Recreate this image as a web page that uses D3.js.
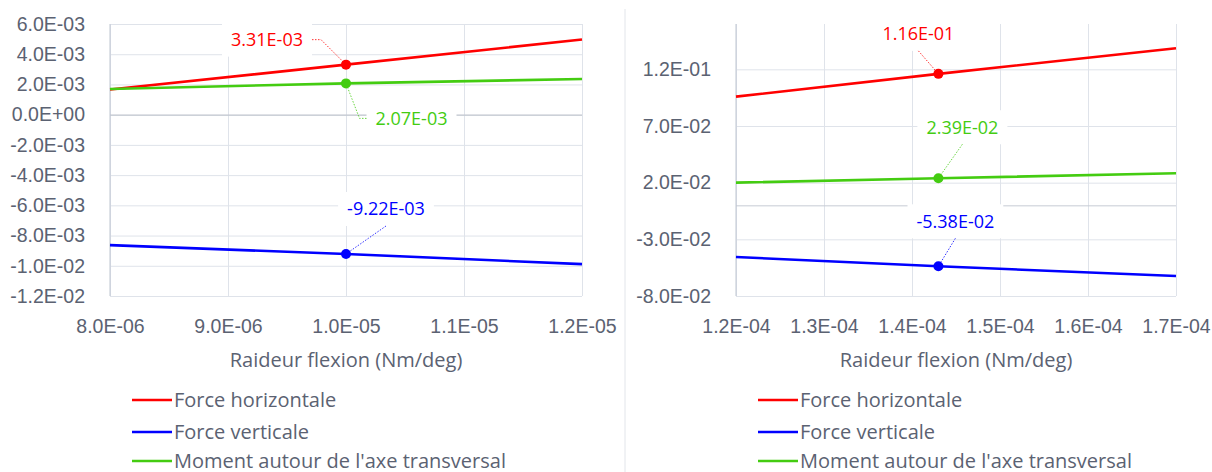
<!DOCTYPE html>
<html>
<head>
<meta charset="utf-8">
<script src="https://cdn.jsdelivr.net/npm/d3@7"></script>
<style>
  body { margin: 0; background: #fff; }
  svg { display: block; font-family: "Open Sans", sans-serif; }
</style>
</head>
<body>
<svg id="chart" width="1212" height="472"></svg>
<script>
// series shared by both panels
var seriesNames = ["Force horizontale", "Force verticale", "Moment autour de l'axe transversal"];
var seriesColors = ["#ff0000", "#0000ff", "#44cc11"];

// left panel
var leftX = [8.0e-6, 1.0e-5, 1.2e-5];
var leftHoriz = [1.66e-3, 3.31e-3, 4.97e-3];
var leftVert = [-8.63e-3, -9.22e-3, -9.89e-3];
var leftMoment = [1.70e-3, 2.07e-3, 2.36e-3];
var leftXTicks = [8.0e-6, 9.0e-6, 1.0e-5, 1.1e-5, 1.2e-5];
var leftYTicks = [-1.2e-2, -1.0e-2, -8.0e-3, -6.0e-3, -4.0e-3, -2.0e-3, 0, 2.0e-3, 4.0e-3, 6.0e-3];

// right panel
var rightX = [1.2e-4, 1.43e-4, 1.7e-4];
var rightHoriz = [9.59e-2, 1.16e-1, 1.386e-1];
var rightVert = [-4.56e-2, -5.38e-2, -6.23e-2];
var rightMoment = [2.00e-2, 2.39e-2, 2.83e-2];
var rightXTicks = [1.2e-4, 1.3e-4, 1.4e-4, 1.5e-4, 1.6e-4, 1.7e-4];
var rightYTicks = [-8.0e-2, -3.0e-2, 2.0e-2, 7.0e-2, 1.2e-1];

var axisTitle = "Raideur flexion (Nm/deg)";
var textColor = "#5b6272";

function sci(digits) {
    return function(d) {
        var s = (+d).toExponential(digits).split("e");
        var e = +s[1];
        return s[0] + "E" + (e < 0 ? "-" : "+") + String(Math.abs(e)).padStart(2, "0");
    };
}

var svg = d3.select("#chart");

// divider between the two charts
svg.append("line")
    .attr("x1", 625).attr("x2", 625)
    .attr("y1", 9).attr("y2", 472)
    .attr("stroke", "#e2e5ea").attr("stroke-width", 1);

var panels = [
    {left: 110, right: 582, xDomain: [8.0e-6, 1.2e-5], yDomain: [-1.2e-2, 6.0e-3],
     xTicks: leftXTicks, yTicks: leftYTicks, xs: leftX,
     series: [leftHoriz, leftVert, leftMoment],
     labelOffsets: [[-79, -25], [40, -45], [65.5, 35]]},
    {left: 736, right: 1176, xDomain: [1.2e-4, 1.7e-4], yDomain: [-8.0e-2, 1.6e-1],
     xTicks: rightXTicks, yTicks: rightYTicks, xs: rightX,
     series: [rightHoriz, rightVert, rightMoment],
     labelOffsets: [[-20, -40], [17, -45], [24, -51]]}
];

var plotTop = 24, plotBottom = 296, marked = 1;

panels.forEach(function(p) {
    var x = d3.scaleLinear().domain(p.xDomain).range([p.left, p.right]);
    var y = d3.scaleLinear().domain(p.yDomain).range([plotBottom, plotTop]);
    var w = p.right - p.left, h = plotBottom - plotTop;

    // vertical gridlines
    svg.append("g")
        .attr("transform", "translate(0," + plotBottom + ")")
        .call(d3.axisBottom(x).tickValues(p.xTicks).tickSize(-h).tickFormat(""))
        .call(function(g) { g.select(".domain").remove(); })
        .selectAll("line").attr("stroke", "#dfe3ea");

    // horizontal gridlines
    svg.append("g")
        .attr("transform", "translate(" + p.left + ",0)")
        .call(d3.axisLeft(y).tickValues(p.yTicks.concat([0])).tickSize(-w).tickFormat(""))
        .call(function(g) { g.select(".domain").remove(); })
        .selectAll("line")
        .attr("stroke", function(d) { return d === 0 ? "#c6cbd4" : "#dfe3ea"; });

    // value axis line
    svg.append("line")
        .attr("x1", p.left).attr("x2", p.left)
        .attr("y1", plotTop).attr("y2", plotBottom)
        .attr("stroke", "#bfc6d1");

    // tick labels
    svg.append("g")
        .attr("transform", "translate(" + (p.left - 22) + ",0)")
        .call(d3.axisLeft(y).tickValues(p.yTicks).tickSize(0).tickFormat(sci(1)))
        .call(function(g) { g.select(".domain").remove(); })
        .selectAll("text")
        .attr("fill", textColor).style("font-size", "19.5px");

    svg.append("g")
        .attr("transform", "translate(0," + 316 + ")")
        .call(d3.axisBottom(x).tickValues(p.xTicks).tickSize(0).tickFormat(sci(1)))
        .call(function(g) { g.select(".domain").remove(); })
        .selectAll("text")
        .attr("fill", textColor).style("font-size", "19.5px");

    svg.append("text")
        .attr("x", (p.left + p.right) / 2)
        .attr("y", 360)
        .attr("dy", "0.35em")
        .attr("text-anchor", "middle")
        .attr("fill", textColor)
        .style("font-size", "20px")
        .text(axisTitle);

    // series lines
    var line = d3.line()
        .x(function(d, i) { return x(p.xs[i]); })
        .y(function(d) { return y(d); });

    p.series.forEach(function(vals, k) {
        svg.append("path")
            .attr("d", line(vals))
            .attr("fill", "none")
            .attr("stroke", seriesColors[k])
            .attr("stroke-width", 2.6);
    });

    // marked point with data label
    p.series.forEach(function(vals, k) {
        var px = x(p.xs[marked]), py = y(vals[marked]);
        var cx = px + p.labelOffsets[k][0], cy = py + p.labelOffsets[k][1];
        var g = svg.append("g");
        var t = g.append("text")
            .attr("x", cx).attr("y", cy)
            .attr("dy", "0.35em")
            .attr("text-anchor", "middle")
            .attr("fill", seriesColors[k])
            .style("font-size", "18px")
            .text(sci(2)(vals[marked]));
        var tw = t.node().getComputedTextLength();
        var bx0 = cx - tw / 2 - 9, bx1 = cx + tw / 2 + 9, by0 = cy - 17, by1 = cy + 17;
        g.insert("rect", "text")
            .attr("x", bx0).attr("y", by0)
            .attr("width", bx1 - bx0).attr("height", by1 - by0)
            .attr("fill", "#fff");

        // leader line
        var pts;
        if (px > bx1) pts = [[bx1, cy], [bx1 + 9, cy], [px, py]];
        else if (px < bx0) pts = [[bx0, cy], [bx0 - 7, cy], [px, py]];
        else pts = [[cx, py < cy ? by0 : by1], [px, py]];
        svg.append("path")
            .attr("d", d3.line()(pts))
            .attr("fill", "none")
            .attr("stroke", seriesColors[k])
            .attr("stroke-width", 1)
            .attr("stroke-dasharray", "1.5,1.5")
            .attr("opacity", 0.8);

        svg.append("circle")
            .attr("cx", px).attr("cy", py).attr("r", 5)
            .attr("fill", seriesColors[k]);
    });

    // legend
    var legend = svg.selectAll(null)
        .data(seriesNames)
        .enter().append("g")
        .attr("transform", function(d, i) { return "translate(" + (p.left + 22) + "," + [400, 432, 461][i] + ")"; });

    legend.append("line")
        .attr("x1", 0).attr("x2", 40)
        .attr("stroke", function(d, i) { return seriesColors[i]; })
        .attr("stroke-width", 2.6);

    legend.append("text")
        .attr("x", 42)
        .attr("dy", "0.35em")
        .attr("fill", textColor)
        .style("font-size", "20px")
        .text(function(d) { return d; });
});
</script>
</body>
</html>
